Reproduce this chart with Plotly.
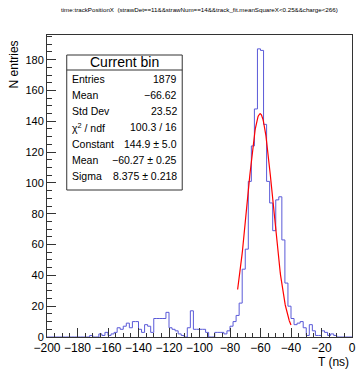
import numpy as np
import plotly.graph_objects as go

# ---------------- data ----------------
title_text = "time:trackPositionX  (strawDet==11&&strawNum==14&&track_fit.meanSquareX<0.25&&charge<266)"
x_min, x_max, n_bins = -200.0, 0.0, 100
counts = [0]*14 + [
    1, 0, 0, 2, 1, 3, 1, 2, 3, 6,
    5, 7, 9, 6, 10, 10, 5, 3, 8, 7,
    3, 12, 12, 12, 12, 16, 6, 5, 4, 2,
    1, 0, 6, 17, 5, 5, 5, 5, 3, 0,
    0, 3, 3, 3, 2, 4, 7, 10, 14, 22,
    44, 57, 101, 124, 148, 187, 186, 138, 101, 87,
    69, 89, 91, 63, 35, 20, 12, 8, 9, 10,
    6, 1, 8, 4, 1, 1, 4, 3, 1, 2,
    1] + [0]*5

fit_const, fit_mean, fit_sigma = 144.9, -60.27, 8.375
fit_range = (-75.0, -40.0)

x_tickvals = list(range(-200, 1, 20))
x_ticktext = [("\u2212" + str(-v)) if v < 0 else str(v) for v in x_tickvals]
y_tickvals = list(range(0, 181, 20))
y_ticktext = [str(v) for v in y_tickvals]

stats_header = "Current bin"
stat_labels = ["Entries", "Mean", "Std Dev", "\u03c7<sup>2</sup> / ndf", "Constant", "Mean", "Sigma"]
stat_values = ["1879", "\u221266.62", "23.52", "100.3 / 16", "144.9 \u00b1 5.0",
               "\u221260.27 \u00b1 0.25", "8.375 \u00b1 0.218"]

x_title = "T (ns)"
y_title = "N entries"

# ---------------- figure ----------------
W, H = 361, 371
L, R, T, B = 47, 356, 35, 337  # plot frame in pixels

def px(x):
    return (x - L) / (R - L)

def py(y):
    return (B - y) / (B - T)

edges = np.linspace(x_min, x_max, n_bins + 1)
step_y = list(counts) + [counts[-1]]

fx = np.linspace(fit_range[0], fit_range[1], 200)
fy = fit_const * np.exp(-0.5 * ((fx - fit_mean) / fit_sigma) ** 2)

fig = go.Figure()
fig.add_trace(go.Scatter(x=edges, y=step_y, mode="lines", line_shape="hv",
                         line=dict(color="#5a5ad8", width=1), hoverinfo="skip"))
fig.add_trace(go.Scatter(x=fx, y=fy, mode="lines",
                         line=dict(color="#ff0000", width=1.2), hoverinfo="skip"))

font_family = "Liberation Sans, Arial, sans-serif"
axis_common = dict(showgrid=False, zeroline=False, showline=True, mirror=True,
                   linecolor="#333333", linewidth=1, ticks="inside",
                   tickcolor="#333333", tickwidth=1, ticklen=9)

fig.update_xaxes(range=[x_min, x_max], tickmode="array", tickvals=x_tickvals,
                 ticktext=x_ticktext, tickfont=dict(family=font_family, size=12, color="black"),
                 minor=dict(ticks="inside", dtick=5, ticklen=4.5, tickcolor="#333333"),
                 **axis_common)
fig.update_yaxes(range=[0, 196], tickmode="array", tickvals=y_tickvals,
                 ticktext=y_ticktext, tickfont=dict(family=font_family, size=11, color="black"),
                 minor=dict(ticks="inside", dtick=5, ticklen=4.5, tickcolor="#333333"),
                 **axis_common)

shapes = [
    dict(type="rect", xref="paper", yref="paper", x0=px(67), x1=px(184), y0=py(190), y1=py(55),
         line=dict(color="#333333", width=1), fillcolor="white", layer="above"),
    dict(type="line", xref="paper", yref="paper", x0=px(67), x1=px(184), y0=py(70), y1=py(70),
         line=dict(color="#333333", width=1), layer="above"),
]

annotations = [
    dict(text=title_text, xref="paper", yref="paper", x=(202 - L) / (R - L), y=py(10),
         showarrow=False, font=dict(family=font_family, size=6.2, color="black"),
         xanchor="center", yanchor="middle"),
    dict(text=stats_header, xref="paper", yref="paper", x=px(125.5), y=py(62.5),
         showarrow=False, font=dict(family=font_family, size=14, color="black"),
         xanchor="center", yanchor="middle"),
    dict(text=x_title, xref="paper", yref="paper", x=px(355), y=py(362),
         showarrow=False, font=dict(family=font_family, size=12, color="black"),
         xanchor="right", yanchor="middle"),
    dict(text=y_title, xref="paper", yref="paper", x=px(14), y=py(38),
         showarrow=False, textangle=-90, font=dict(family=font_family, size=12, color="black"),
         xanchor="center", yanchor="top"),
]
row_y = [79, 95, 111, 127.5, 144, 160, 176]
for lab, val, yy in zip(stat_labels, stat_values, row_y):
    annotations.append(dict(text=lab, xref="paper", yref="paper", x=px(70.5), y=py(yy),
                            showarrow=False, font=dict(family=font_family, size=10.5, color="black"),
                            xanchor="left", yanchor="middle"))
    annotations.append(dict(text=val, xref="paper", yref="paper", x=px(180.5), y=py(yy),
                            showarrow=False, font=dict(family=font_family, size=10.5, color="black"),
                            xanchor="right", yanchor="middle"))

fig.update_layout(width=W, height=H, margin=dict(l=L, r=W - R, t=T, b=H - B),
                  paper_bgcolor="white", plot_bgcolor="white", showlegend=False,
                  shapes=shapes, annotations=annotations)

fig.write_html("out.html")
